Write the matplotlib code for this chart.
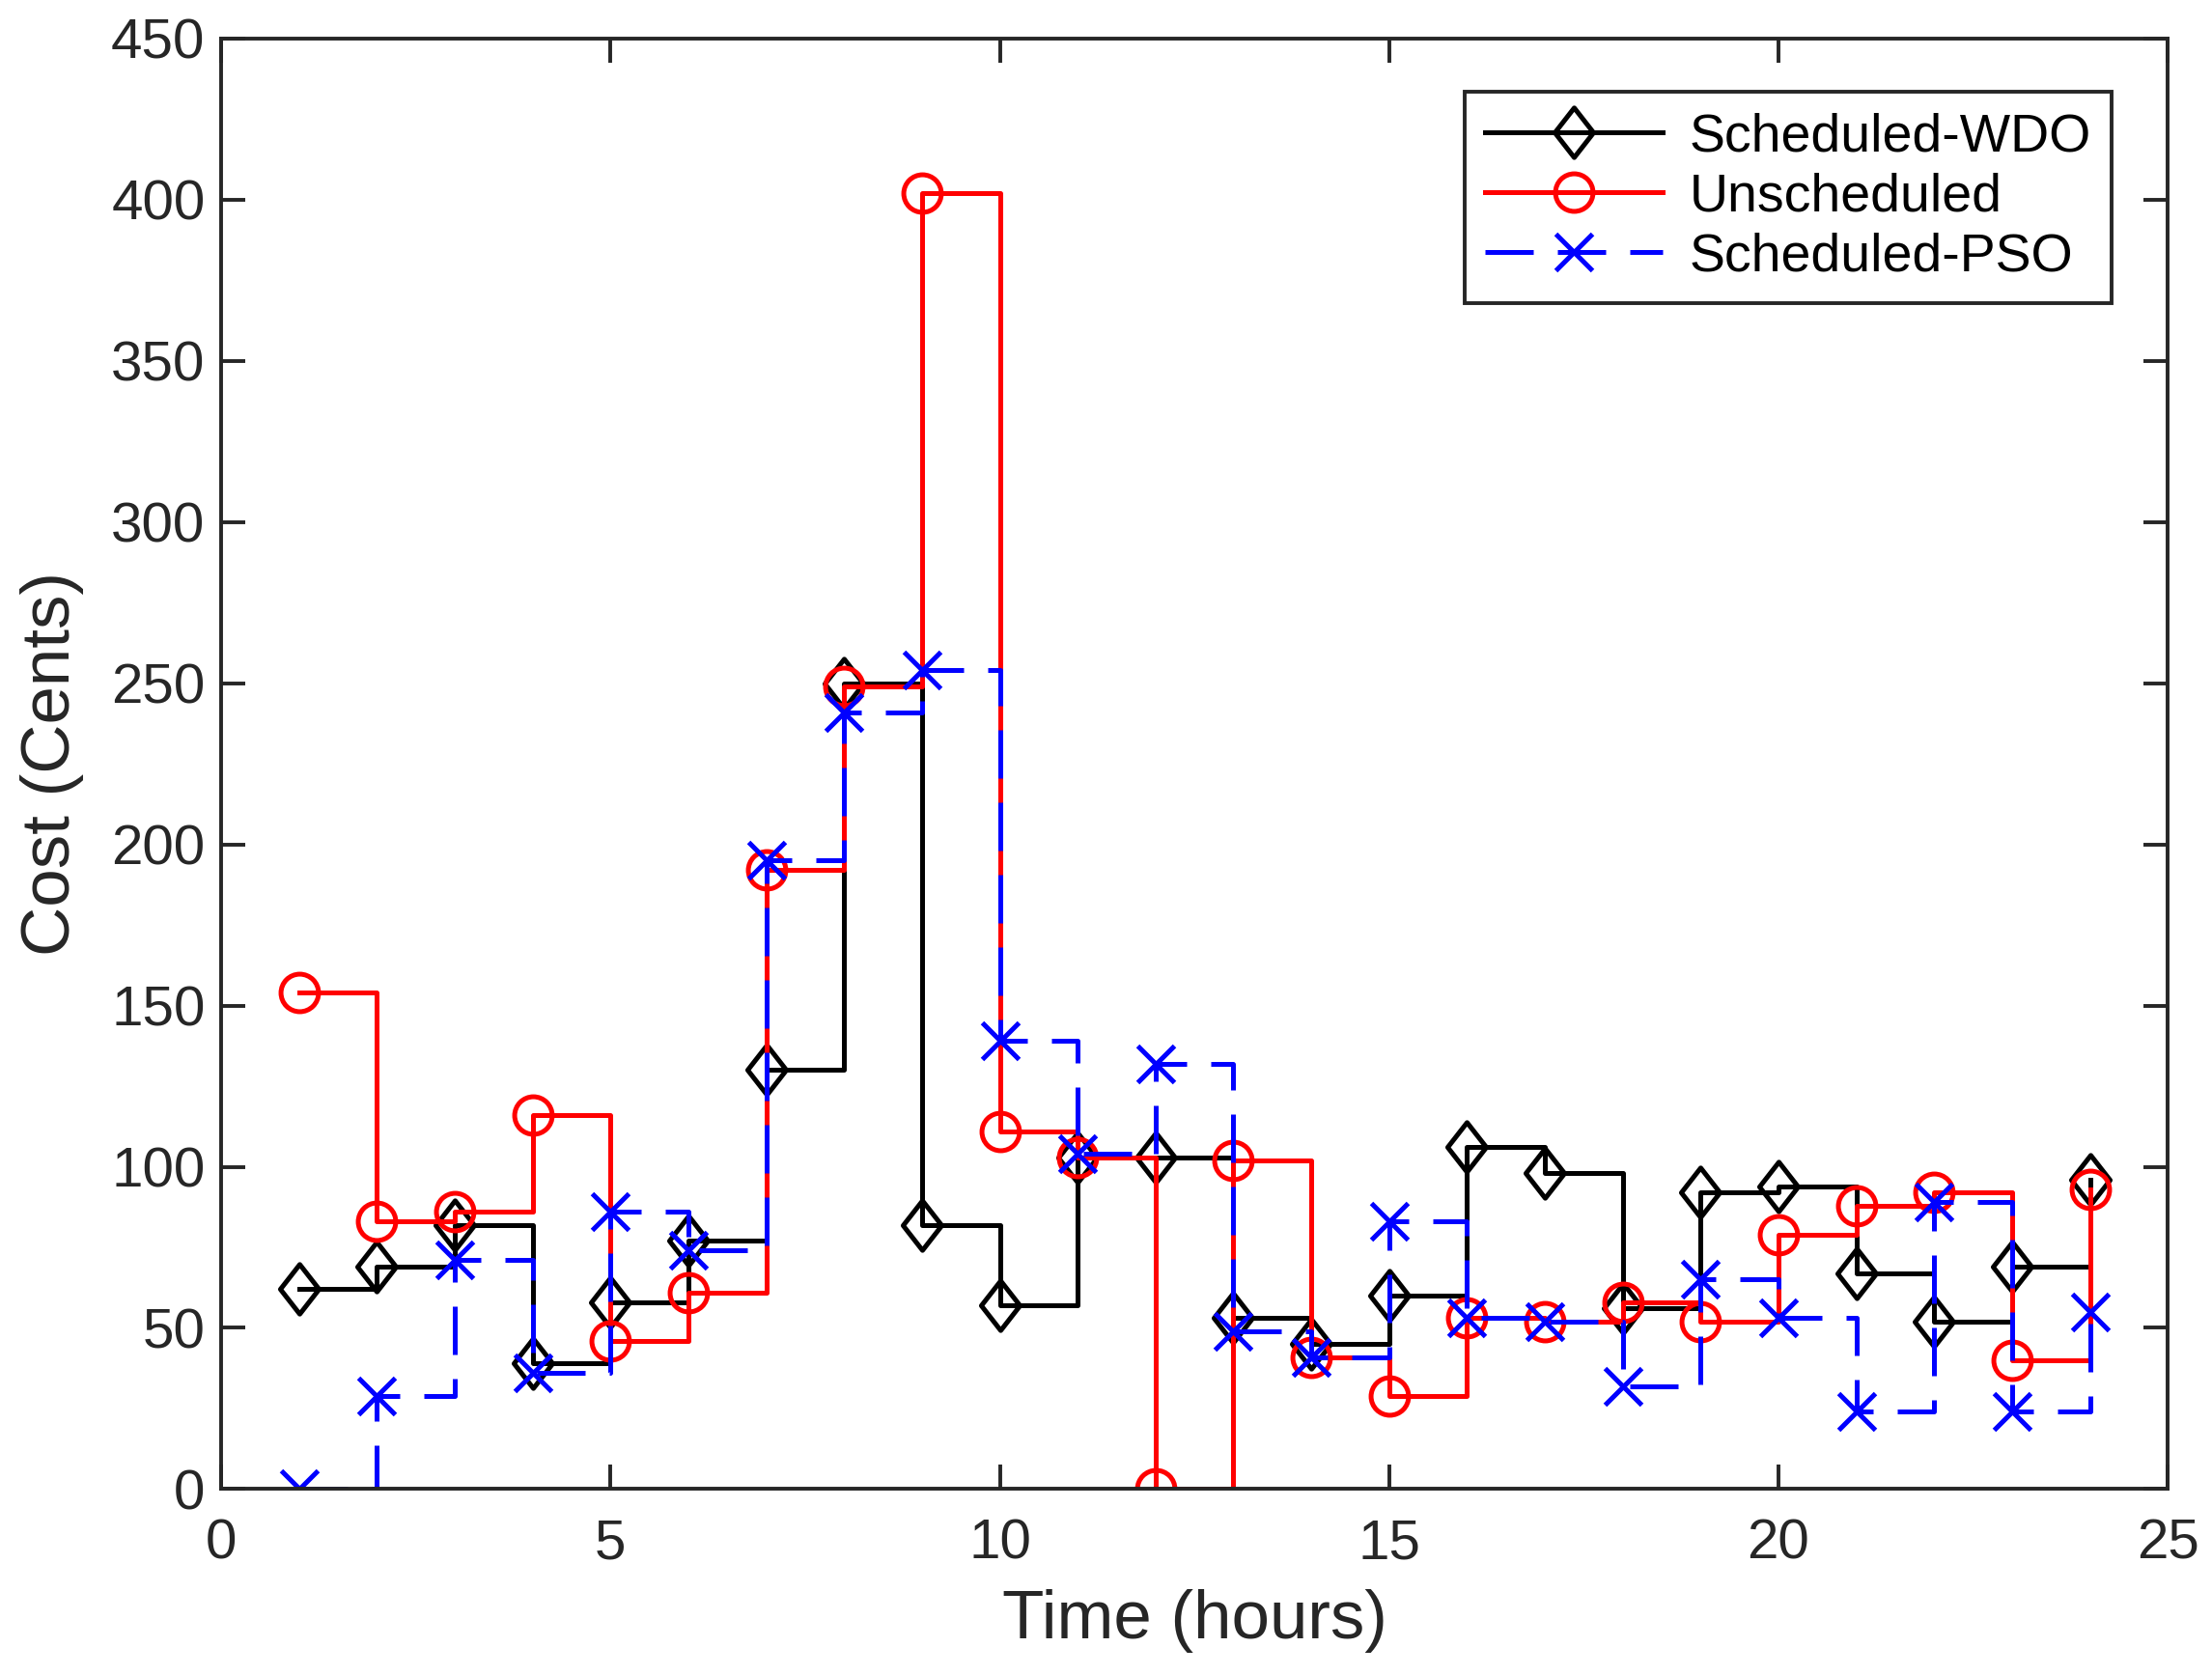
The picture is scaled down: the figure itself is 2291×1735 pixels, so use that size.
import matplotlib
matplotlib.use("Agg")
import matplotlib.pyplot as plt
from matplotlib.path import Path

hours = list(range(1, 25))

cost_wdo = [62, 69, 82, 39, 58, 77, 130, 250, 82, 57, 103, 103,
            53, 45, 60, 106, 98, 56, 92, 94, 67, 52, 69, 96]
cost_unsched = [154, 83, 86, 116, 46, 61, 192, 249, 402, 111, 103, 0,
                102, 41, 29, 53, 52, 58, 52, 79, 88, 92, 40, 93]
cost_pso = [0, 29, 71, 36, 86, 74, 195, 241, 254, 139, 104, 132,
            49, 41, 83, 53, 52, 32, 65, 53, 24, 89, 24, 55]

plt.rcParams['font.family'] = ['Liberation Sans', 'DejaVu Sans']

# matlab-ish diamond, slightly taller than wide
diamond = Path([(0, 1), (0.78, 0), (0, -1), (-0.78, 0), (0, 1)],
               [Path.MOVETO, Path.LINETO, Path.LINETO, Path.LINETO, Path.CLOSEPOLY])

fig = plt.figure(figsize=(22.91, 17.35), dpi=100)
ax = fig.add_axes([0.100, 0.111, 0.880, 0.866])

lw = 3.6
ax.step(hours, cost_wdo, where='post', color='black', lw=lw,
        marker=diamond, ms=37, mfc='none', mew=lw, label='Scheduled-WDO')
ax.step(hours, cost_unsched, where='post', color='red', lw=lw,
        marker='o', ms=28, mfc='none', mew=lw, label='Unscheduled')
l3, = ax.step(hours, cost_pso, where='post', color='blue', lw=lw,
              marker='x', ms=28, mew=lw, label='Scheduled-PSO')
l3.set_dashes((10, 5))

ax.set_xlim(0, 25)
ax.set_ylim(0, 450)
ax.set_xticks(range(0, 26, 5))
ax.set_yticks(range(0, 451, 50))

axcol = '#262626'
for s in ax.spines.values():
    s.set_linewidth(2.8)
    s.set_color(axcol)
ax.tick_params(direction='in', length=18, width=2.8, colors=axcol,
               labelsize=42, top=True, right=True, pad=12)
ax.tick_params(axis='x', pad=22)

ax.set_xlabel('Time (hours)', fontsize=51, color=axcol, labelpad=14)
ax.set_ylabel('Cost (Cents)', fontsize=51, color=axcol, labelpad=20)

leg = ax.legend(loc='upper right', bbox_to_anchor=(0.971, 0.963),
                borderaxespad=0, fontsize=40, handlelength=3.3,
                fancybox=False, framealpha=1, edgecolor=axcol,
                labelspacing=0.18, handletextpad=0.5, borderpad=0.38)
leg.get_frame().set_linewidth(2.8)

fig.savefig('out.png', dpi=100)
